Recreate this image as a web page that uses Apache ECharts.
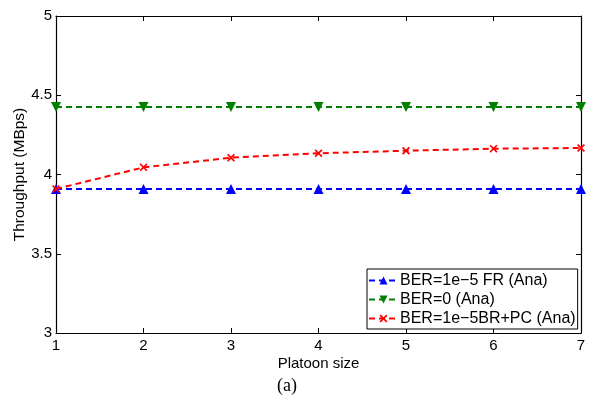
<!DOCTYPE html>
<html>
<head>
<meta charset="utf-8">
<script src="https://cdn.jsdelivr.net/npm/echarts@6/dist/echarts.min.js"></script>
<style>
html,body{margin:0;padding:0;background:#fff;}
#chart{width:597px;height:403px;}
</style>
</head>
<body>
<div id="chart"></div>
<script>
// Platoon size on the x axis
const platoonSizes = [1, 2, 3, 4, 5, 6, 7];
// Throughput (MBps) per configuration
const berFR = [3.909, 3.909, 3.909, 3.909, 3.909, 3.909, 3.909];
const berZero = [4.426, 4.426, 4.426, 4.426, 4.426, 4.426, 4.426];
const berBRPC = [3.909, 4.045, 4.106, 4.134, 4.150, 4.163, 4.167];
const seriesNames = ['BER=1e\u22125 FR (Ana)', 'BER=0 (Ana)', 'BER=1e\u22125BR+PC (Ana)'];
const yTicks = [3, 3.5, 4, 4.5, 5];

const FONT = 'Liberation Sans, Arial, sans-serif';
const crossPath = 'path://M0,1.5L1.5,0L5,3.5L8.5,0L10,1.5L6.5,5L10,8.5L8.5,10L5,6.5L1.5,10L0,8.5L3.5,5Z';

function pairs(vals) { return platoonSizes.map((x, i) => [x, vals[i]]); }

function lineSeries(name, vals, color, symbol, rotate, size) {
  return {
    name: name,
    type: 'line',
    data: pairs(vals),
    symbol: symbol,
    symbolSize: size,
    symbolRotate: rotate,
    lineStyle: { color: color, width: 2, type: [6, 4] },
    itemStyle: { color: color },
    animation: false
  };
}

const chart = echarts.init(document.getElementById('chart'), null, { renderer: 'canvas' });

const axisCommon = {
  type: 'value',
  axisLine: { show: true, lineStyle: { color: '#000', width: 1.2 } },
  axisTick: { show: true, inside: true, length: 5, lineStyle: { color: '#000' } },
  splitLine: { show: false }
};

chart.setOption({
  backgroundColor: '#fff',
  animation: false,
  grid: { left: 56, right: 16, top: 16, bottom: 70, containLabel: false, outerBoundsMode: 'none' },
  xAxis: [
    Object.assign({}, axisCommon, {
      position: 'bottom', min: 1, max: 7, interval: 1,
      name: 'Platoon size', nameLocation: 'middle', nameGap: 23, nameMoveOverlap: false,
      nameTextStyle: { fontFamily: FONT, fontSize: 15, color: '#000' },
      axisLabel: { fontFamily: FONT, fontSize: 15, color: '#000', margin: 5 }
    }),
    Object.assign({}, axisCommon, {
      position: 'top', min: 1, max: 7, interval: 1,
      axisLabel: { show: false }
    })
  ],
  yAxis: [
    Object.assign({}, axisCommon, {
      position: 'left', min: yTicks[0], max: yTicks[yTicks.length - 1], interval: 0.5,
      name: 'Throughput (MBps)', nameLocation: 'middle', nameGap: 28, nameMoveOverlap: false,
      nameTextStyle: { fontFamily: FONT, fontSize: 15.5, color: '#000' },
      axisLabel: { fontFamily: FONT, fontSize: 15, color: '#000', margin: 4 }
    }),
    Object.assign({}, axisCommon, {
      position: 'right', min: yTicks[0], max: yTicks[yTicks.length - 1], interval: 0.5,
      axisLabel: { show: false }
    })
  ],
  legend: {
    left: 367, top: 269,
    orient: 'vertical',
    backgroundColor: '#fff',
    borderColor: '#000', borderWidth: 1, borderRadius: 0,
    padding: [2, 2, 1, 1],
    itemGap: 0,
    itemWidth: 29, itemHeight: 10,
    textStyle: { fontFamily: FONT, fontSize: 16, color: '#000', padding: [0, 0, 0, -3], height: 19, lineHeight: 19 },
    data: seriesNames
  },
  series: [
    lineSeries(seriesNames[0], berFR, '#0000ff', 'triangle', 0, 10),
    lineSeries(seriesNames[1], berZero, '#008000', 'triangle', 180, 10),
    lineSeries(seriesNames[2], berBRPC, '#ff0000', crossPath, 0, 8)
  ],
  graphic: [{
    type: 'text',
    left: 277, top: 377,
    style: { text: '(a)', font: '18px "Liberation Serif", "Times New Roman", serif', fill: '#000' }
  }]
});
</script>
</body>
</html>
